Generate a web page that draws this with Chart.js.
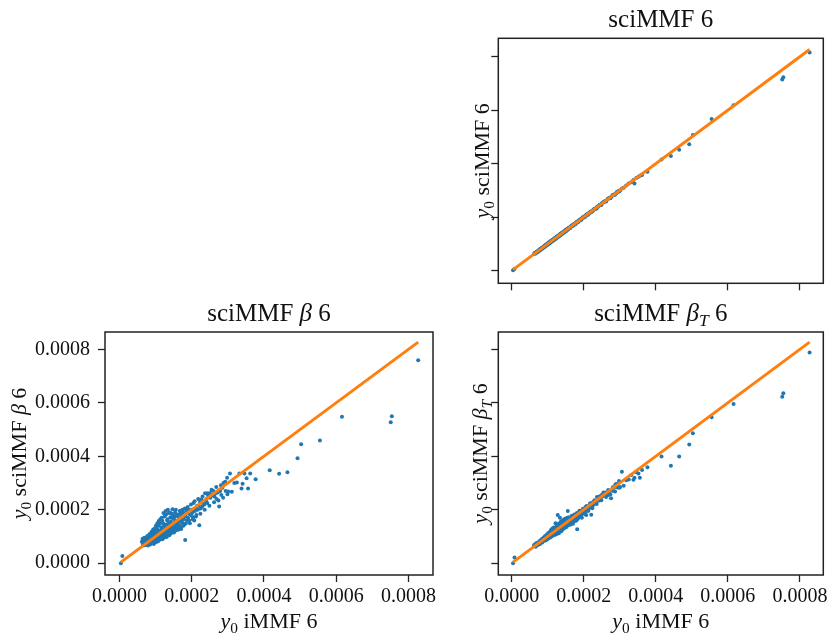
<!DOCTYPE html>
<html>
<head>
<meta charset="utf-8">
<script src="https://cdn.jsdelivr.net/npm/chart.js@4"></script>
<style>
  html, body { margin: 0; padding: 0; background: #fff; }
  body { width: 828px; height: 634px; position: relative; overflow: hidden; }
  canvas { position: absolute; }
</style>
</head>
<body>
<canvas id="cTop"   width="388" height="300" style="left:440px;top:0"></canvas>
<canvas id="cBeta"  width="440" height="334" style="left:0;top:300px"></canvas>
<canvas id="cBetaT" width="388" height="334" style="left:440px;top:300px"></canvas>
<script>
// values are in units of 1e-6 (tick 200 is shown as 0.0002)

const X_IMMF = [
  4, 8, 827, 754, 751, 616, 555, 503, 493, 465, 442, 416, 377, 362,
  62, 65, 66, 68, 70, 71, 72, 74, 75, 76, 78, 79, 80, 81, 82, 84, 85, 86, 87, 88,
  90, 90, 92, 93, 94, 95, 96, 97, 98, 99, 100, 101, 102, 103, 104, 105, 106, 107,
  108, 109, 110, 111, 112, 113, 114, 115, 116, 117, 118, 119, 120, 121, 122, 123,
  124, 125, 126, 127, 128, 129, 130, 131, 132, 133, 134, 135, 136, 137, 138, 139,
  140, 141, 142, 143, 144, 145, 146, 147, 148, 150, 151, 152, 153, 155, 156, 157,
  158, 160, 161, 162, 164, 165, 166, 168, 169, 170, 172, 173, 175, 176, 178, 180,
  182, 183, 185, 187, 188, 190, 192, 194, 195, 197, 199, 200, 202, 204, 205, 207,
  209, 211, 213, 215, 217, 219, 221, 223, 225, 227, 229, 231, 235, 237, 239, 241,
  243, 245, 247, 250, 252, 255, 257, 260, 263, 266, 269, 272, 276, 279, 282, 285,
  288, 291, 294, 298, 301, 306, 311, 318, 325, 332, 338, 341, 346, 352, 356,
  64, 67, 69, 73, 77, 79, 83, 85, 89, 91, 93, 95, 97, 99, 101, 103, 105, 107,
  109, 111, 113, 115, 117, 119, 121, 123, 125, 127, 129, 131, 133, 135, 137, 139,
  141, 143, 145, 147, 149, 151, 154, 156, 159, 163, 167, 171, 174, 177, 181, 184,
  189, 193, 198, 203, 208, 212, 218, 224, 230, 236, 244, 249, 256, 262, 268, 274,
  281, 287, 293, 299,
];

const Y_SCIMMF = [
  2, 6, 816, 723, 715, 619, 567, 507, 473, 452, 429, 416, 370, 358,
  63, 65, 67, 67, 71, 70, 73, 74, 74, 77, 78, 79, 81, 80, 83, 84, 85, 87, 86, 89,
  90, 91, 92, 93, 95, 94, 97, 97, 99, 98, 101, 100, 103, 103, 105, 104, 107, 107,
  109, 108, 111, 110, 113, 113, 115, 114, 117, 117, 119, 118, 121, 121, 123, 122,
  125, 124, 127, 127, 129, 128, 131, 130, 133, 132, 135, 134, 137, 137, 139, 138,
  141, 140, 143, 142, 145, 144, 147, 146, 149, 150, 152, 151, 154, 154, 157, 156,
  159, 160, 162, 161, 165, 164, 167, 168, 170, 169, 173, 172, 176, 175, 179, 179,
  183, 182, 186, 186, 189, 190, 193, 193, 196, 197, 200, 199, 203, 205, 204, 208,
  208, 212, 212, 216, 216, 220, 220, 224, 224, 228, 230, 230, 234, 238, 240, 240,
  244, 246, 246, 251, 253, 255, 258, 261, 262, 267, 270, 273, 275, 280, 283, 285,
  289, 290, 295, 299, 300, 307, 310, 319, 326, 331, 339, 326, 347, 351, 355,
  66, 64, 71, 70, 79, 76, 85, 82, 91, 88, 95, 92, 99, 96, 103, 100, 107, 104,
  111, 108, 115, 112, 119, 116, 123, 120, 127, 124, 131, 128, 135, 132, 139, 136,
  143, 140, 147, 144, 151, 148, 156, 153, 161, 160, 169, 168, 176, 174, 183, 181,
  191, 190, 200, 200, 210, 209, 220, 221, 232, 233, 246, 246, 258, 259, 270, 271,
  283, 284, 295, 296,
];

const Y_SCIMMF_BETA = [
  0, 27, 759, 550, 527, 548, 459, 445, 393, 340, 335, 348, 314, 336,
  80, 72, 86, 76, 90, 78, 85, 94, 80, 70, 92, 84, 100, 75, 88, 96, 82, 110, 78, 93,
  86, 104, 98, 80, 115, 90, 102, 84, 120, 95, 108, 88, 130, 99, 112, 92, 125, 100,
  140, 95, 115, 103, 150, 107, 122, 98, 135, 112, 160, 105, 125, 115, 188, 110,
  140, 118, 100, 132, 195, 122, 145, 112, 160, 125, 200, 130, 120, 150, 105, 140,
  190, 128, 155, 118, 170, 138, 125, 202, 150, 135, 165, 120, 175, 145, 200, 140,
  130, 160, 150, 175, 130, 162, 140, 185, 155, 135, 178, 160, 150, 190, 165, 145,
  87, 175, 195, 160, 205, 170, 185, 198, 150, 182, 200, 178, 190, 170, 225, 160,
  195, 205, 180, 215, 200, 215, 142, 230, 205, 238, 212, 225, 220, 262, 232, 240,
  225, 255, 250, 262, 245, 275, 255, 270, 250, 262, 240, 265, 212, 270, 255, 282,
  300, 302, 270, 320, 268, 336, 267, 300, 302, 336, 280, 297, 336, 318, 280,
  92, 66, 95, 68, 102, 66, 108, 70, 118, 76, 125, 72, 130, 78, 140, 80, 150, 82,
  158, 88, 165, 92, 170, 90, 150, 95, 175, 102, 182, 98, 165, 108, 188, 110,
  172, 112, 185, 118, 178, 115, 190, 122, 182, 125, 195, 128, 200, 140, 205, 150,
  210, 160, 220, 165, 232, 175, 240, 185, 250, 200, 262, 215, 272, 228, 285, 235,
  292, 245, 305, 258,
];

const Y_SCIMMF_BETA_T = [
  0, 21, 788, 636, 623, 596, 546, 486, 444, 399, 365, 399, 359, 349,
  66, 64, 70, 67, 74, 69, 72, 78, 73, 74, 80, 77, 85, 79, 82, 86, 83, 92, 84, 88,
  87, 95, 91, 90, 99, 93, 97, 92, 104, 97, 102, 96, 110, 101, 106, 100, 112, 104,
  118, 103, 110, 107, 122, 109, 116, 106, 120, 113, 128, 112, 121, 117, 150, 116,
  126, 120, 110, 126, 180, 124, 133, 121, 138, 128, 170, 131, 126, 140, 120, 136,
  155, 133, 145, 130, 150, 140, 134, 165, 148, 141, 155, 136, 158, 149, 195, 147,
  142, 158, 154, 163, 145, 160, 150, 170, 160, 148, 172, 164, 158, 178, 170, 160,
  127, 176, 186, 172, 195, 180, 188, 195, 170, 188, 199, 190, 198, 188, 210, 180,
  200, 208, 196, 214, 208, 216, 181, 225, 215, 230, 222, 226, 226, 248, 236, 240,
  235, 250, 248, 255, 250, 265, 258, 265, 258, 265, 255, 270, 243, 276, 270, 284,
  295, 296, 283, 308, 285, 342, 290, 310, 313, 330, 312, 320, 340, 336, 320,
  70, 62, 76, 68, 82, 72, 90, 78, 96, 84, 102, 86, 106, 90, 112, 94, 116, 96,
  124, 100, 130, 104, 134, 106, 128, 108, 140, 114, 146, 112, 150, 120, 156, 124,
  160, 128, 164, 132, 166, 138, 170, 142, 172, 148, 178, 152, 182, 160, 188, 166,
  196, 178, 204, 184, 214, 196, 224, 206, 236, 222, 250, 236, 262, 248, 274, 258,
  284, 268, 296, 282,
];

const TICK_VALUES = [0, 200, 400, 600, 800];
const TICK_LABELS = ['0.0000', '0.0002', '0.0004', '0.0006', '0.0008'];

// rich text pieces: it = italic, sub = subscript
const TITLE_PLAIN  = [{ t: 'sciMMF 6' }];
const TITLE_BETA   = [{ t: 'sciMMF ' }, { t: 'β', it: true }, { t: ' 6' }];
const TITLE_BETA_T = [{ t: 'sciMMF ' }, { t: 'β', it: true }, { t: 'T', it: true, sub: true }, { t: ' 6' }];
const X_LABEL      = [{ t: 'y', it: true }, { t: '0', sub: true }, { t: ' iMMF 6' }];
const Y_LABEL_PLAIN  = [{ t: 'y', it: true }, { t: '0', sub: true }, { t: ' sciMMF 6' }];
const Y_LABEL_BETA   = [{ t: 'y', it: true }, { t: '0', sub: true }, { t: ' sciMMF ' }, { t: 'β', it: true }, { t: ' 6' }];
const Y_LABEL_BETA_T = [{ t: 'y', it: true }, { t: '0', sub: true }, { t: ' sciMMF ' }, { t: 'β', it: true }, { t: 'T', it: true, sub: true }, { t: ' 6' }];

const SERIF = '"Liberation Serif", "DejaVu Serif", serif';
const BLUE = '#1f77b4';
const ORANGE = '#ff7f0e';


function drawRich(ctx, parts, x, y, size, rot) {
  const fontOf = p => `${p.it ? 'italic ' : ''}${p.sub ? size * 0.7 : size}px ${SERIF}`;
  ctx.save();
  ctx.translate(x, y);
  if (rot) ctx.rotate(rot);
  ctx.textBaseline = 'alphabetic';
  ctx.textAlign = 'left';
  ctx.fillStyle = '#111';
  let w = 0;
  parts.forEach(p => { ctx.font = fontOf(p); w += ctx.measureText(p.t).width; });
  let cx = -w / 2;
  parts.forEach(p => {
    ctx.font = fontOf(p);
    ctx.fillText(p.t, cx, p.sub ? size * 0.22 : 0);
    cx += ctx.measureText(p.t).width;
  });
  ctx.restore();
}

function labelsPlugin(cfg) {
  return {
    id: 'mplLabels',
    afterDraw(chart) {
      const { ctx, chartArea: a } = chart;
      ctx.save();
      ctx.strokeStyle = '#222';
      ctx.lineWidth = 1.5;
      ctx.strokeRect(a.left, a.top, a.right - a.left, a.bottom - a.top);
      ctx.restore();
      const cx = (a.left + a.right) / 2, cy = (a.top + a.bottom) / 2;
      drawRich(ctx, cfg.title, cx, a.top - 11.5, 25, 0);
      if (cfg.xlabel) drawRich(ctx, cfg.xlabel, cx, a.bottom + 53, 22, 0);
      drawRich(ctx, cfg.ylabel, a.left - cfg.ylabelGap, cy, 22, -Math.PI / 2);
    },
  };
}

function axis(min, max, showLabels, size, horizontal) {
  return {
    type: 'linear', min, max,
    afterBuildTicks: s => { s.ticks = TICK_VALUES.map(v => ({ value: v })); },
    afterFit: s => {
      if (horizontal) s.height = size; else s.width = size;
      s.paddingLeft = s.paddingRight = s.paddingTop = s.paddingBottom = 0;
    },
    border: { display: false },
    grid: { drawOnChartArea: false, drawTicks: true, tickLength: 7, tickColor: '#222', tickWidth: 1.3 },
    ticks: {
      padding: horizontal ? 3 : 8,
      color: '#111',
      font: { family: SERIF, size: 20 },
      maxRotation: 0, minRotation: 0, autoSkip: false,
      callback: v => showLabels ? TICK_LABELS[TICK_VALUES.indexOf(v)] : '',
    },
  };
}

function makePanel(id, ys, cfg) {
  const pts = X_IMMF.map((x, i) => ({ x, y: ys[i] }));
  const lo = Math.min(...X_IMMF), hi = Math.max(...X_IMMF);
  const diag = [{ x: lo, y: lo }, { x: hi, y: hi }];

  return new Chart(document.getElementById(id), {
    type: 'scatter',
    data: {
      datasets: [
        { type: 'line', data: diag, borderColor: ORANGE, borderWidth: 3,
          pointRadius: 0, order: 0 },
        { data: pts, backgroundColor: BLUE, pointRadius: 2,
          pointBorderWidth: 0, pointHoverRadius: 2, order: 1 },
      ],
    },
    options: {
      responsive: false, animation: false,
      layout: { padding: cfg.pad },
      plugins: { legend: { display: false }, tooltip: { enabled: false } },
      scales: {
        x: axis(cfg.xr[0], cfg.xr[1], cfg.xTicks, cfg.xh, true),
        y: axis(cfg.yr[0], cfg.yr[1], cfg.yTicks, cfg.yw, false),
      },
    },
    plugins: [labelsPlugin(cfg)],
  });
}


makePanel('cTop', Y_SCIMMF, {
  title: TITLE_PLAIN, ylabel: Y_LABEL_PLAIN, xlabel: null, ylabelGap: 9,
  pad: { top: 38.3, right: 4.7, bottom: 4.7, left: 0 },
  xr: [-37, 865], yr: [-47, 869], xTicks: false, yTicks: false, xh: 12, yw: 58.3,
});

makePanel('cBeta', Y_SCIMMF_BETA, {
  title: TITLE_BETA, ylabel: Y_LABEL_BETA, xlabel: X_LABEL, ylabelGap: 79,
  pad: { top: 32, right: 7, bottom: 0, left: 0 },
  xr: [-40, 868], yr: [-44, 865], xTicks: true, yTicks: true, xh: 59, yw: 105,
});

makePanel('cBetaT', Y_SCIMMF_BETA_T, {
  title: TITLE_BETA_T, ylabel: Y_LABEL_BETA_T, xlabel: X_LABEL, ylabelGap: 11,
  pad: { top: 32, right: 4.7, bottom: 0, left: 0 },
  xr: [-37, 865], yr: [-44, 865], xTicks: true, yTicks: false, xh: 59, yw: 58.3,
});
</script>
</body>
</html>
